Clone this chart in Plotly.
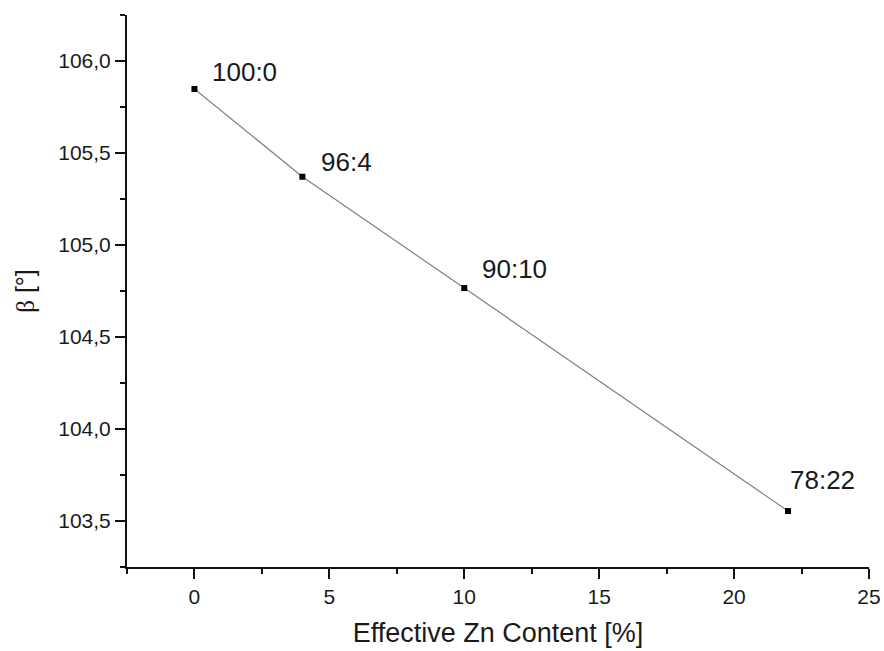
import plotly.graph_objects as go

zn_content = [0, 4, 10, 22]
beta = [105.848, 105.371, 104.766, 103.554]
ratio_labels = ["100:0", "96:4", "90:10", "78:22"]

# label placement (pixel offsets from each point)
label_dx = [16, 17, 16, 0]
label_dy = [17, 15, 19, 31]

FONT = "Liberation Sans, Arial, sans-serif"
TXT = "#1a1a1a"

fig = go.Figure()
fig.add_trace(go.Scatter(
    x=zn_content, y=beta, mode="lines+markers",
    line=dict(color="#808080", width=1.2),
    marker=dict(symbol="square", size=6, color="black"),
    showlegend=False, hoverinfo="skip", cliponaxis=False,
))

for x, y, t, dx, dy in zip(zn_content, beta, ratio_labels, label_dx, label_dy):
    fig.add_annotation(x=x, y=y, text=t, showarrow=False,
                       xanchor="left", yanchor="middle",
                       xshift=dx, yshift=dy,
                       font=dict(family=FONT, size=26, color=TXT))

fig.update_layout(
    width=884, height=651,
    margin=dict(l=127, r=15, t=15, b=84),
    paper_bgcolor="white", plot_bgcolor="white",
    separators=",.",
    font=dict(family=FONT, color=TXT),
)
fig.update_xaxes(
    range=[-2.5, 25], tickvals=[0, 5, 10, 15, 20, 25],
    automargin=False,
    showgrid=False, zeroline=False,
    showline=True, linecolor="#111", linewidth=2,
    ticks="outside", ticklen=10, tickwidth=2, tickcolor="#111",
    minor=dict(ticks="outside", ticklen=5, tickwidth=2, tickcolor="#111",
               tickvals=[-2.5, 2.5, 7.5, 12.5, 17.5, 22.5]),
    tickfont=dict(size=21, color=TXT),
    title=dict(text="Effective Zn Content [%]", font=dict(size=27, color=TXT), standoff=16),
)
fig.update_yaxes(
    range=[103.25, 106.25], tickvals=[103.5, 104.0, 104.5, 105.0, 105.5, 106.0],
    tickformat=".1f",
    automargin=False,
    showgrid=False, zeroline=False,
    showline=True, linecolor="#111", linewidth=2,
    ticks="outside", ticklen=10, tickwidth=2, tickcolor="#111",
    minor=dict(ticks="outside", ticklen=5, tickwidth=2, tickcolor="#111",
               tickvals=[103.25, 103.75, 104.25, 104.75, 105.25, 105.75, 106.25]),
    tickfont=dict(size=21, color=TXT),
    title=dict(text="<span style='font-family:Liberation Serif'>β</span> [°]",
               font=dict(size=25, color=TXT), standoff=16),
)

fig.write_html("out.html",
               config={"displayModeBar": False},
               post_script="document.body.style.margin='0';document.body.style.overflow='hidden';")
